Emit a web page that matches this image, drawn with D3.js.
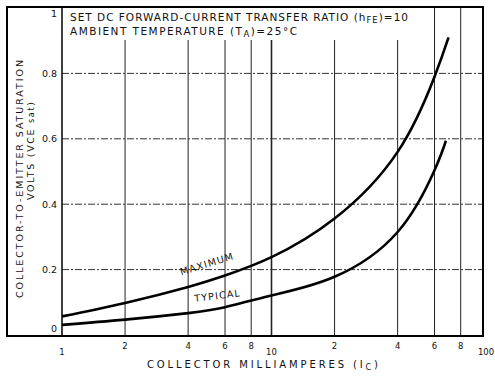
<!DOCTYPE html>
<html>
<head>
<meta charset="utf-8">
<script src="https://cdn.jsdelivr.net/npm/d3@7"></script>
<style>
  body { margin: 0; background: #fff; }
  text { font-family: "DejaVu Sans", sans-serif; fill: #111; }
</style>
</head>
<body>
<div id="chart"></div>
<script>
// collector current (mA) and VCE(sat) volts
const maxCurrent = [1, 2, 4, 6, 10, 20, 40, 60, 70];
const maxVolts   = [0.057, 0.098, 0.147, 0.182, 0.238, 0.356, 0.56, 0.79, 0.91];
const typCurrent = [1, 2, 4, 6, 10, 20, 40, 60, 68];
const typVolts   = [0.031, 0.047, 0.067, 0.085, 0.121, 0.178, 0.315, 0.504, 0.594];

const xGridVals = [2, 4, 6, 8, 10, 20, 40, 60, 80];
const xTickVals = [1, 2, 4, 6, 8, 10, 20, 40, 60, 80, 100];
const xTickLabels = ["1", "2", "4", "6", "8", "10", "2", "4", "6", "8", "100"];
const yTickVals = [0, 0.2, 0.4, 0.6, 0.8, 1];
const yTickLabels = ["0", "0.2", "0.4", "0.6", "0.8", "1"];

const width = 495, height = 376;
const frame = {left: 7, right: 483, top: 7, bottom: 336};

const svg = d3.select("#chart").append("svg")
    .attr("width", width)
    .attr("height", height);

const x = d3.scaleLog().domain([1, 100]).range([62, 481]);
const y = d3.scaleLinear().domain([0, 1]).range([335, 8]);

/***** grid *****/
svg.append("g").attr("class", "xGrid")
  .selectAll("line").data(xGridVals).enter().append("line")
    .attr("x1", d => x(d)).attr("x2", d => x(d))
    .attr("y1", frame.top).attr("y2", frame.bottom)
    .attr("stroke", "#222")
    .attr("stroke-width", d => d === 10 ? 1.6 : 1);

svg.append("g").attr("class", "yGrid")
  .selectAll("line").data(yTickVals.filter(d => d > 0 && d < 1)).enter().append("line")
    .attr("x1", x(1)).attr("x2", frame.right)
    .attr("y1", d => y(d)).attr("y2", d => y(d))
    .attr("stroke", "#333")
    .attr("stroke-width", 1)
    .attr("stroke-dasharray", "7,2,2,2");

// blank the grid behind the header notes
svg.append("rect")
    .attr("x", x(1) + 1).attr("y", frame.top + 1)
    .attr("width", 358).attr("height", 32)
    .attr("fill", "#fff");

/***** frame *****/
svg.append("rect")
    .attr("x", frame.left).attr("y", frame.top)
    .attr("width", frame.right - frame.left)
    .attr("height", frame.bottom - frame.top)
    .attr("fill", "none").attr("stroke", "#000").attr("stroke-width", 2);

svg.append("line")
    .attr("x1", x(1)).attr("x2", x(1))
    .attr("y1", frame.top).attr("y2", frame.bottom)
    .attr("stroke", "#000").attr("stroke-width", 1.5);

/***** curves *****/
const line = d3.line()
    .x(d => x(d[0])).y(d => y(d[1]))
    .curve(d3.curveNatural);

svg.append("path")
    .datum(d3.zip(maxCurrent, maxVolts))
    .attr("d", line)
    .attr("fill", "none").attr("stroke", "#000").attr("stroke-width", 2.6);

svg.append("path")
    .datum(d3.zip(typCurrent, typVolts))
    .attr("d", line)
    .attr("fill", "none").attr("stroke", "#000").attr("stroke-width", 2.6);

svg.append("text")
    .attr("transform", "translate(208,267) rotate(-17)")
    .attr("text-anchor", "middle")
    .style("font-size", "9.5px").style("letter-spacing", "1.2px")
    .text("MAXIMUM");

svg.append("text")
    .attr("transform", "translate(218,299) rotate(-7)")
    .attr("text-anchor", "middle")
    .style("font-size", "9.5px").style("letter-spacing", "1.2px")
    .text("TYPICAL");

/***** tick labels *****/
svg.append("g").attr("class", "yAxis")
  .selectAll("text").data(yTickVals).enter().append("text")
    .attr("x", 57)
    .attr("y", d => y(d) + (d === 1 ? 6 : d === 0 ? -6 : 0))
    .attr("dy", "0.35em")
    .attr("text-anchor", "end")
    .style("font-size", "9.5px")
    .text((d, i) => yTickLabels[i]);

svg.append("g").attr("class", "xAxis")
  .selectAll("text").data(xTickVals).enter().append("text")
    .attr("x", d => x(d) + (d === 100 ? 5 : 0))
    .attr("y", d => (d === 1 || d === 10 || d === 100) ? 355 : 349)
    .attr("text-anchor", "middle")
    .style("font-size", "8.5px")
    .text((d, i) => xTickLabels[i]);

/***** axis titles *****/
const xTitle = svg.append("text")
    .attr("x", 147).attr("y", 368)
    .attr("textLength", 231).attr("lengthAdjust", "spacing")
    .style("font-size", "10px");
xTitle.append("tspan").text("COLLECTOR MILLIAMPERES (I");
xTitle.append("tspan").attr("dy", 2).style("font-size", "8px").text("C");
xTitle.append("tspan").attr("dy", -2).text(")");

svg.append("text")
    .attr("transform", "translate(23,298) rotate(-90)")
    .attr("textLength", 238).attr("lengthAdjust", "spacing")
    .style("font-size", "9.5px")
    .text("COLLECTOR-TO-EMITTER SATURATION");

const yTitle2 = svg.append("text")
    .attr("transform", "translate(34,200) rotate(-90)")
    .attr("textLength", 98).attr("lengthAdjust", "spacing")
    .style("font-size", "9.5px");
yTitle2.append("tspan").text("VOLTS  (VCE ");
yTitle2.append("tspan").style("font-size", "8px").text("sat");
yTitle2.append("tspan").text(")");

/***** header notes *****/
const h1 = svg.append("text")
    .attr("x", 70).attr("y", 21)
    .attr("textLength", 338).attr("lengthAdjust", "spacing")
    .style("font-size", "10.5px");
h1.append("tspan").text("SET DC FORWARD-CURRENT TRANSFER RATIO (h");
h1.append("tspan").attr("dy", 2).style("font-size", "8.5px").text("FE");
h1.append("tspan").attr("dy", -2).text(")=10");

const h2 = svg.append("text")
    .attr("x", 70).attr("y", 35)
    .attr("textLength", 227).attr("lengthAdjust", "spacing")
    .style("font-size", "10.5px");
h2.append("tspan").text("AMBIENT TEMPERATURE (T");
h2.append("tspan").attr("dy", 2).style("font-size", "8.5px").text("A");
h2.append("tspan").attr("dy", -2).text(")=25°C");
</script>
</body>
</html>
